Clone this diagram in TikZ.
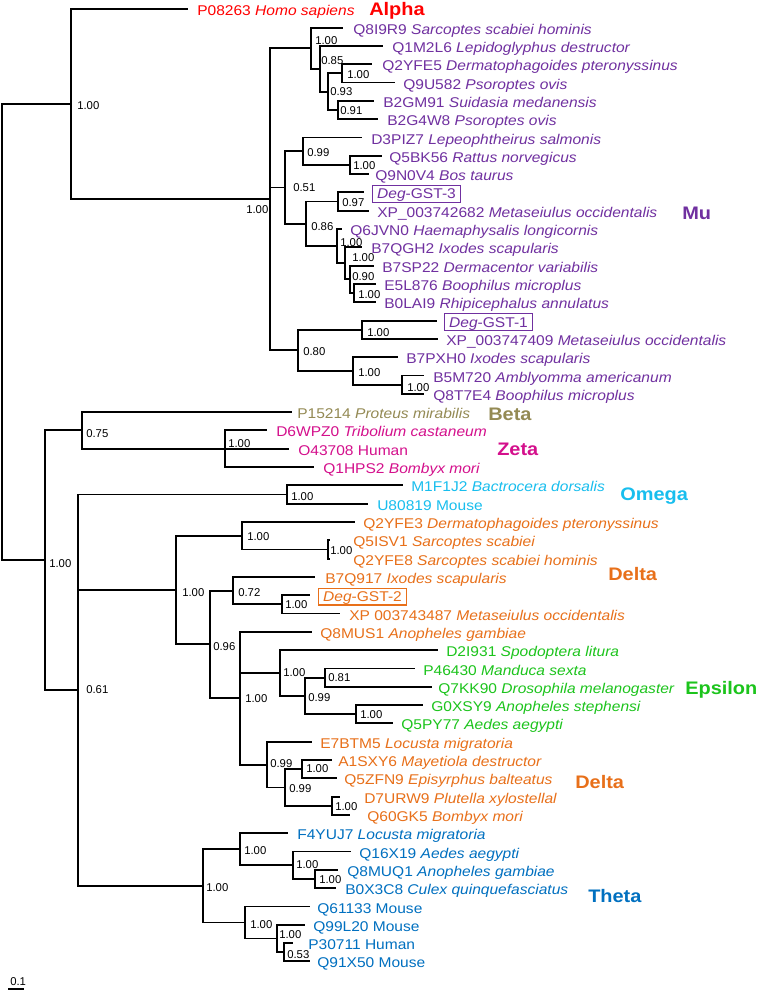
\documentclass[tikz,border=0pt]{standalone}
\usepackage{fontspec}
\setmainfont{Liberation Sans}
\newfontfamily\lffam{Liberation Sans}[FakeStretch=1.1]
\definecolor{alphared}{HTML}{FF0000}
\definecolor{mupurple}{HTML}{7030A0}
\definecolor{betaolive}{HTML}{948A54}
\definecolor{zetamag}{HTML}{D4108C}
\definecolor{omegacyan}{HTML}{18BEEE}
\definecolor{deltaor}{HTML}{E8701A}
\definecolor{epsgreen}{HTML}{1CC41C}
\definecolor{thetablue}{HTML}{0070C0}
\tikzset{
  br/.style={line width=1.4pt},
  leaflab/.style={anchor=base west, inner sep=0pt, yshift=-4.9pt, font=\lffam\fontsize{10.6}{12}\selectfont},
  sup/.style={anchor=base west, inner sep=0pt, yshift=-3.05pt, font=\fontsize{8.5}{10}\selectfont},
  clade/.style={anchor=base west, inner sep=0pt, yshift=-4.87pt, font=\lffam\bfseries\fontsize{13.6}{15}\selectfont},
  degbox/.style={draw, line width=0.8pt, anchor=west, inner xsep=3.5pt, inner ysep=1.4pt, text height=8.6pt, text depth=1pt, font=\lffam\fontsize{10.6}{12}\selectfont},
}
\newcommand\LeafN[6]{\coordinate (#1) at (#2,#3); \node[leaflab,text=#5] (#1t) at (#4,#3) {#6};}
\newcommand\BoxN[6]{\coordinate (#1) at (#2,#3); \node[degbox,draw=#5,text=#5] (#1t) at (#4,#3+1.5) {#6};}
\newcommand\InN[6]{\coordinate (#1) at (#2,#3); \node[sup] (#1s) at (#4,#5) {#6};}
\begin{document}
\begin{tikzpicture}[x=0.75pt,y=-0.75pt]
\fill[white] (0,0) rectangle (757,992);
\useasboundingbox (0,0) rectangle (757,992);
% leaves
\LeafN{l0}{188}{9.3}{197}{alphared}{P08263 \textit{Homo sapiens}}
\LeafN{l1}{343}{27.6}{353}{mupurple}{Q8I9R9 \textit{Sarcoptes scabiei hominis}}
\LeafN{l2}{383}{45.9}{392}{mupurple}{Q1M2L6 \textit{Lepidoglyphus destructor}}
\LeafN{l3}{372}{64.2}{382}{mupurple}{Q2YFE5 \textit{Dermatophagoides pteronyssinus}}
\LeafN{l4}{395}{82.5}{403}{mupurple}{Q9U582 \textit{Psoroptes ovis}}
\LeafN{l5}{374}{100.9}{383}{mupurple}{B2GM91 \textit{Suidasia medanensis}}
\LeafN{l6}{378}{119.2}{387}{mupurple}{B2G4W8 \textit{Psoroptes ovis}}
\LeafN{l7}{362}{137.5}{371}{mupurple}{D3PIZ7 \textit{Lepeophtheirus salmonis}}
\LeafN{l8}{382}{155.8}{389}{mupurple}{Q5BK56 \textit{Rattus norvegicus}}
\LeafN{l9}{369}{174.1}{375}{mupurple}{Q9N0V4 \textit{Bos taurus}}
\BoxN{l10}{364}{192.4}{372}{mupurple}{\textit{Deg}-GST-3}
\LeafN{l11}{369}{210.7}{377}{mupurple}{XP\_003742682 \textit{Metaseiulus occidentalis}}
\LeafN{l12}{342}{229.0}{350}{mupurple}{Q6JVN0 \textit{Haemaphysalis longicornis}}
\LeafN{l13}{362}{247.3}{371}{mupurple}{B7QGH2 \textit{Ixodes scapularis}}
\LeafN{l14}{374}{265.6}{382}{mupurple}{B7SP22 \textit{Dermacentor variabilis}}
\LeafN{l15}{376}{283.9}{384}{mupurple}{E5L876 \textit{Boophilus microplus}}
\LeafN{l16}{376}{302.3}{384}{mupurple}{B0LAI9 \textit{Rhipicephalus annulatus}}
\BoxN{l17}{437}{320.6}{444}{mupurple}{\textit{Deg}-GST-1}
\LeafN{l18}{438}{338.9}{446}{mupurple}{XP\_003747409 \textit{Metaseiulus occidentalis}}
\LeafN{l19}{398}{357.2}{406}{mupurple}{B7PXH0 \textit{Ixodes scapularis}}
\LeafN{l20}{424}{375.5}{433}{mupurple}{B5M720 \textit{Amblyomma americanum}}
\LeafN{l21}{424}{393.8}{433}{mupurple}{Q8T7E4 \textit{Boophilus microplus}}
\LeafN{l22}{292}{412.1}{297}{betaolive}{P15214 \textit{Proteus mirabilis}}
\LeafN{l23}{267}{430.4}{276}{zetamag}{D6WPZ0 \textit{Tribolium castaneum}}
\LeafN{l24}{289}{448.7}{298}{zetamag}{O43708 Human}
\LeafN{l25}{314}{467.0}{323}{zetamag}{Q1HPS2 \textit{Bombyx mori}}
\LeafN{l26}{403}{485.4}{411}{omegacyan}{M1F1J2 \textit{Bactrocera dorsalis}}
\LeafN{l27}{368}{503.7}{377}{omegacyan}{U80819 Mouse}
\LeafN{l28}{355}{522.0}{363}{deltaor}{Q2YFE3 \textit{Dermatophagoides pteronyssinus}}
\LeafN{l29}{330}{540.3}{353}{deltaor}{Q5ISV1 \textit{Sarcoptes scabiei}}
\LeafN{l30}{330}{558.6}{353}{deltaor}{Q2YFE8 \textit{Sarcoptes scabiei hominis}}
\LeafN{l31}{315}{576.9}{325}{deltaor}{B7Q917 \textit{Ixodes scapularis}}
\BoxN{l32}{310}{595.2}{318}{deltaor}{\textit{Deg}-GST-2}
\LeafN{l33}{340}{613.5}{349}{deltaor}{XP 003743487 \textit{Metaseiulus occidentalis}}
\LeafN{l34}{312}{631.8}{320}{deltaor}{Q8MUS1 \textit{Anopheles gambiae}}
\LeafN{l35}{438}{650.1}{446}{epsgreen}{D2I931 \textit{Spodoptera litura}}
\LeafN{l36}{415}{668.5}{423}{epsgreen}{P46430 \textit{Manduca sexta}}
\LeafN{l37}{432}{686.8}{438}{epsgreen}{Q7KK90 \textit{Drosophila melanogaster}}
\LeafN{l38}{423}{705.1}{431}{epsgreen}{G0XSY9 \textit{Anopheles stephensi}}
\LeafN{l39}{393}{723.4}{401}{epsgreen}{Q5PY77 \textit{Aedes aegypti}}
\LeafN{l40}{312}{741.7}{320}{deltaor}{E7BTM5 \textit{Locusta migratoria}}
\LeafN{l41}{332}{760.0}{338}{deltaor}{A1SXY6 \textit{Mayetiola destructor}}
\LeafN{l42}{337}{778.3}{344}{deltaor}{Q5ZFN9 \textit{Episyrphus balteatus}}
\LeafN{l43}{340}{796.6}{364}{deltaor}{D7URW9 \textit{Plutella xylostellal}}
\LeafN{l44}{350}{814.9}{367}{deltaor}{Q60GK5 \textit{Bombyx mori}}
\LeafN{l45}{288}{833.2}{297}{thetablue}{F4YUJ7 \textit{Locusta migratoria}}
\LeafN{l46}{351}{851.5}{359}{thetablue}{Q16X19 \textit{Aedes aegypti}}
\LeafN{l47}{338}{869.9}{347}{thetablue}{Q8MUQ1 \textit{Anopheles gambiae}}
\LeafN{l48}{336}{888.2}{345}{thetablue}{B0X3C8 \textit{Culex quinquefasciatus}}
\LeafN{l49}{310}{906.5}{317}{thetablue}{Q61133 Mouse}
\LeafN{l50}{305}{924.8}{313}{thetablue}{Q99L20 Mouse}
\LeafN{l51}{293}{943.1}{308}{thetablue}{P30711 Human}
\LeafN{l52}{310}{961.4}{317}{thetablue}{Q91X50 Mouse}
% internal nodes
\coordinate (root) at (2,332.3);
\InN{nA}{71}{104.3}{77}{105}{1.00}
\InN{nMu}{270}{199.25}{246}{209}{1.00}
\InN{nM1}{311}{48.2}{315}{40}{1.00}
\InN{nM1b}{320}{68.8}{321}{60}{0.85}
\InN{nM1c}{328}{91.7}{330}{91}{0.93}
\InN{nM1d}{342}{73.35}{347}{74}{1.00}
\InN{nM1e}{338}{110.05}{340}{110}{0.91}
\InN{nM2}{285}{187.5}{293}{187}{0.51}
\InN{nM2a}{303}{151.2}{307}{152}{0.99}
\InN{nM2c}{350}{164.95}{353}{165}{1.00}
\InN{nM2b}{306}{223.85}{311}{226}{0.86}
\InN{nM2d}{338}{201.55}{342}{202}{0.97}
\InN{nM2e}{337}{246.15}{340}{242}{1.00}
\InN{nM2f}{345}{263.3}{352}{257}{1.00}
\InN{nM2g}{350}{279.35}{352}{276}{0.90}
\InN{nM2h}{354}{293.1}{358}{294}{1.00}
\InN{nM3}{298}{350.3}{303}{351}{0.80}
\InN{nM3a}{362}{329.75}{367}{332}{1.00}
\InN{nM3b}{353}{370.9}{358}{372}{1.00}
\InN{nM3c}{402}{384.65}{407}{387}{1.00}
\InN{nB}{45}{560.3}{49}{563}{1.00}
\InN{nBZ}{82}{430.4}{86}{433}{0.75}
\InN{nZ}{225}{448.7}{228}{443}{1.00}
\InN{nC}{78}{690.2}{86}{689}{0.61}
\InN{nOm}{287}{494.55}{291}{496}{1.00}
\InN{nDE}{176}{590.05}{182}{592}{1.00}
\InN{nD1}{242}{535.7}{247}{536}{1.00}
\InN{nD1b}{328}{549.45}{330}{550}{1.00}
\InN{nD2}{210}{644.4}{213}{646}{0.96}
\InN{nD2a}{233}{590.6}{238}{592}{0.72}
\InN{nD2b}{282}{604.35}{285}{604}{1.00}
\InN{nD3}{240}{698.2}{245}{698}{1.00}
\InN{nE}{280}{673.0}{283}{672}{1.00}
\InN{nE2}{305}{695.95}{308}{697}{0.99}
\InN{nE3}{325}{677.65}{328}{677}{0.81}
\InN{nE4}{356}{714.25}{360}{714}{1.00}
\InN{nD4}{267}{764.6}{270}{763}{0.99}
\InN{nD5}{285}{787.45}{289}{788}{0.99}
\InN{nD6}{302}{769.15}{306}{768}{1.00}
\InN{nD7}{332}{805.75}{335}{806}{1.00}
\InN{nTh}{203}{885.9}{206}{887}{1.00}
\InN{nT1}{240}{849.25}{244}{850}{1.00}
\InN{nT1b}{293}{865.3}{296}{864}{1.00}
\InN{nT1c}{315}{879.05}{319}{879}{1.00}
\InN{nT2}{245}{922.5}{250}{924}{1.00}
\InN{nT2b}{277}{938.5}{279}{934}{1.00}
\InN{nT2c}{284}{952.25}{287}{954}{0.53}
% branches
\foreach \a/\b in {root/nA, root/nB, nA/l0, nA/nMu,
  nMu/nM1, nMu/nM2, nMu/nM3, nM1/l1, nM1/nM1b, nM1b/l2, nM1b/nM1c,
  nM1c/nM1d, nM1c/nM1e, nM1d/l3, nM1d/l4, nM1e/l5, nM1e/l6,
  nM2/nM2a, nM2/nM2b, nM2a/l7, nM2a/nM2c, nM2c/l8, nM2c/l9,
  nM2b/nM2d, nM2b/nM2e, nM2d/l10, nM2d/l11, nM2e/l12, nM2e/nM2f,
  nM2f/l13, nM2f/nM2g, nM2g/l14, nM2g/nM2h, nM2h/l15, nM2h/l16,
  nM3/nM3a, nM3/nM3b, nM3a/l17, nM3a/l18, nM3b/l19, nM3b/nM3c, nM3c/l20, nM3c/l21,
  nB/nBZ, nB/nC, nBZ/l22, nBZ/nZ, nZ/l23, nZ/l24, nZ/l25,
  nC/nOm, nC/nDE, nC/nTh, nOm/l26, nOm/l27,
  nDE/nD1, nDE/nD2, nD1/l28, nD1/nD1b, nD1b/l29, nD1b/l30,
  nD2/nD2a, nD2/nD3, nD2a/l31, nD2a/nD2b, nD2b/l32, nD2b/l33,
  nD3/l34, nD3/nE, nD3/nD4, nE/l35, nE/nE2, nE2/nE3, nE2/nE4,
  nE3/l36, nE3/l37, nE4/l38, nE4/l39,
  nD4/l40, nD4/nD5, nD5/nD6, nD5/nD7, nD6/l41, nD6/l42, nD7/l43, nD7/l44,
  nTh/nT1, nTh/nT2, nT1/l45, nT1/nT1b, nT1b/l46, nT1b/nT1c, nT1c/l47, nT1c/l48,
  nT2/l49, nT2/nT2b, nT2b/l50, nT2b/nT2c, nT2c/l51, nT2c/l52}
  \draw[br] (\a) |- (\b);
% clade labels
\node[clade,text=alphared] (cAlpha) at (369,9.5) {Alpha};
\node[clade,text=mupurple] (cMu) at (682,213) {Mu};
\node[clade,text=betaolive] (cBeta) at (488,414) {Beta};
\node[clade,text=zetamag] (cZeta) at (497,449) {Zeta};
\node[clade,text=omegacyan] (cOmega) at (620,494) {Omega};
\node[clade,text=deltaor] (cDelta1) at (608,574) {Delta};
\node[clade,text=epsgreen] (cEps) at (685,688) {Epsilon};
\node[clade,text=deltaor] (cDelta2) at (575,782) {Delta};
\node[clade,text=thetablue] (cTheta) at (588,896) {Theta};
% scale bar
\coordinate (sb1) at (8,989);
\coordinate (sb2) at (24,989);
\draw[line width=1pt] (sb1) -- (sb2);
\node[sup] (sbl) at (10,981) {0.1};
\end{tikzpicture}
\end{document}
